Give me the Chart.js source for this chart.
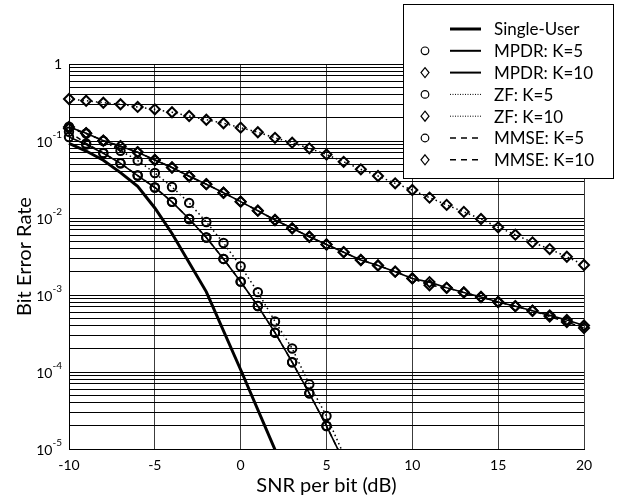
<!DOCTYPE html>
<html>
<head>
<meta charset="utf-8">
<script src="https://cdn.jsdelivr.net/npm/chart.js@4.4.0/dist/chart.umd.min.js"></script>
<style>
  html, body { margin: 0; padding: 0; background: #fff; }
</style>
</head>
<body>
<canvas id="ber" width="617" height="498"></canvas>
<script>
// SNR per bit (dB) grids
const snrSingle = [-10, -9, -8, -7, -6, -5, -4, -2, 0, 2];
const snrK5 = [-10, -9, -8, -7, -6, -5, -4, -3, -2, -1, 0, 1, 2, 3, 4, 5, 6];
const snrK10 = [-10, -9, -8, -7, -6, -5, -4, -3, -2, -1, 0, 1, 2, 3, 4, 5, 6, 7, 8, 9, 10,
                11, 12, 13, 14, 15, 16, 17, 18, 19, 20];

// bit error rates
const singleUser = [0.0933, 0.0741, 0.0562, 0.0389, 0.0257, 0.0135, 0.0063, 0.0011, 1.07e-4, 9.8e-6];
const mpdrK5 = [0.1127, 0.0901, 0.0692, 0.0513, 0.0356, 0.0249, 0.0162, 0.0097, 0.00558,
                0.00294, 0.00149, 7.19e-4, 3.24e-4, 1.34e-4, 5.28e-5, 1.99e-5, 6.98e-6];
const zfK5 = [0.153, 0.125, 0.100, 0.0748, 0.0558, 0.0384, 0.0253, 0.0157, 0.00887,
              0.00473, 0.00236, 0.00109, 4.53e-4, 2.02e-4, 6.92e-5, 2.68e-5, 8.5e-6];
const mmseK5 = [0.132, 0.093, 0.070, 0.0513, 0.0356, 0.0249, 0.0162, 0.0097, 0.00558,
                0.00294, 0.00149, 7.19e-4, 3.24e-4, 1.34e-4, 5.28e-5, 1.99e-5, 6.98e-6];
const mpdrK10 = [0.152, 0.126, 0.101, 0.0857, 0.0716, 0.0566, 0.0453, 0.0348, 0.0275, 0.0213,
                 0.0163, 0.01245, 0.00942, 0.00735, 0.00571, 0.00453, 0.00360, 0.00285, 0.00242,
                 0.00201, 0.00164, 0.00147, 0.00124, 0.00108, 9.42e-4, 8.11e-4, 7.16e-4,
                 6.25e-4, 5.44e-4, 4.73e-4, 4.02e-4];
const mmseK10 = [0.145, 0.126, 0.101, 0.0857, 0.0716, 0.0566, 0.0453, 0.0348, 0.0275, 0.0213,
                 0.0163, 0.01245, 0.00942, 0.00735, 0.00571, 0.00453, 0.00360, 0.00285, 0.00242,
                 0.00201, 0.00164, 0.00134, 0.00124, 0.00108, 9.42e-4, 8.11e-4, 7.16e-4,
                 6.25e-4, 5.26e-4, 4.46e-4, 3.73e-4];
const zfK10 = [0.351, 0.333, 0.314, 0.300, 0.277, 0.258, 0.236, 0.211, 0.189, 0.170,
               0.149, 0.130, 0.110, 0.0951, 0.0804, 0.0668, 0.0537, 0.0429, 0.0351, 0.0282,
               0.0231, 0.0184, 0.0148, 0.0120, 0.0097, 0.00757, 0.00607, 0.00483, 0.00395,
               0.00314, 0.00245];

// y axis labels (powers of ten) and the 1..9 gridlines of each decade
const yDecades = [1, 1e-1, 1e-2, 1e-3, 1e-4, 1e-5];
const yTickExps = ['', '-1', '-2', '-3', '-4', '-5'];
const yGridMultipliers = [1, 2, 3, 4, 5, 6, 7, 8, 9];

const FONT = 'Lato, "Open Sans", sans-serif';
Chart.defaults.font.family = FONT;
Chart.defaults.color = '#000';

const pts = (xs, ys) => xs.map((x, i) => ({x, y: ys[i]}));

const base = {
    borderColor: '#000',
    pointBorderColor: '#000',
    pointBackgroundColor: 'rgba(0,0,0,0)',
    tension: 0,
    fill: false,
    clip: {left: 10, right: 10, top: 10, bottom: 0}
};
const circle = {pointStyle: 'circle', pointRadius: 4.2, pointBorderWidth: 2};
const diamond = {pointStyle: 'rectRot', pointRadius: 5, pointBorderWidth: 2};
const DOT = [1.5, 3];
const DASH = [5, 4];

const datasets = [
    {...base, label: 'Single-User', data: pts(snrSingle, singleUser), borderWidth: 3, pointRadius: 0},
    {...base, ...circle, label: 'MPDR: K=5', data: pts(snrK5, mpdrK5), borderWidth: 1.6},
    {...base, ...diamond, label: 'MPDR: K=10', data: pts(snrK10, mpdrK10), borderWidth: 1.6},
    {...base, ...circle, label: 'ZF: K=5', data: pts(snrK5, zfK5), borderWidth: 1.5, borderDash: DOT},
    {...base, ...diamond, label: 'ZF: K=10', data: pts(snrK10, zfK10), borderWidth: 1.5, borderDash: DOT},
    {...base, ...circle, label: 'MMSE: K=5', data: pts(snrK5, mmseK5), borderWidth: 1.5, borderDash: DASH},
    {...base, ...diamond, label: 'MMSE: K=10', data: pts(snrK10, mmseK10), borderWidth: 1.5, borderDash: DASH}
];

// legend sample styles, same order as datasets
const legendLine = [
    {w: 3, dash: []}, {w: 2, dash: []}, {w: 2, dash: []},
    {w: 1, dash: [1, 1.5]}, {w: 1, dash: [1, 1.5]},
    {w: 1.6, dash: [6, 5]}, {w: 1.6, dash: [6, 5]}
];

const berDecorations = {
    id: 'berDecorations',
    afterDraw(chart) {
        const {ctx, scales: {y}} = chart;
        ctx.save();
        ctx.fillStyle = '#000';
        ctx.textBaseline = 'middle';
        ctx.textAlign = 'right';

        // y tick labels with superscript exponents
        const right = y.right - 7;
        yDecades.forEach((v, i) => {
            const py = y.getPixelForValue(v);
            const exp = yTickExps[i];
            if (!exp) {
                ctx.font = '14px ' + FONT;
                ctx.fillText('1', right, py);
                return;
            }
            ctx.font = '10px ' + FONT;
            const ew = ctx.measureText(exp).width;
            ctx.fillText(exp, right, py - 6);
            ctx.font = '14px ' + FONT;
            ctx.fillText('10', right - ew, py + 1);
        });

        // legend box
        const bx = 403.5, by = 4.5, bw = 210, bh = 174;
        ctx.fillStyle = '#fff';
        ctx.fillRect(bx, by, bw, bh);
        ctx.strokeStyle = '#000';
        ctx.lineWidth = 1;
        ctx.strokeRect(bx, by, bw, bh);

        ctx.textAlign = 'left';
        ctx.font = '17px ' + FONT;
        chart.data.datasets.forEach((ds, i) => {
            const cy = 29 + i * 21.8;
            ctx.fillStyle = '#000';
            ctx.strokeStyle = '#000';
            ctx.lineWidth = 1.2;
            ctx.setLineDash([]);
            if (ds.pointStyle === 'circle') {
                ctx.beginPath();
                ctx.arc(425, cy, 3.8, 0, Math.PI * 2);
                ctx.stroke();
            } else if (ds.pointStyle === 'rectRot') {
                ctx.beginPath();
                ctx.moveTo(425, cy - 5);
                ctx.lineTo(429, cy);
                ctx.lineTo(425, cy + 5);
                ctx.lineTo(421, cy);
                ctx.closePath();
                ctx.stroke();
            }
            const ls = legendLine[i];
            ctx.lineWidth = ls.w;
            ctx.setLineDash(ls.dash);
            ctx.beginPath();
            ctx.moveTo(450, cy);
            ctx.lineTo(481, cy);
            ctx.stroke();
            ctx.setLineDash([]);
            ctx.fillText(ds.label, 494, cy + 1);
        });
        ctx.restore();
    }
};

new Chart(document.getElementById('ber'), {
    type: 'line',
    data: {datasets},
    options: {
        responsive: false,
        animation: false,
        events: [],
        layout: {padding: {left: 0, right: 33, top: 64, bottom: 0}},
        plugins: {legend: {display: false}, tooltip: {enabled: false}},
        scales: {
            x: {
                type: 'linear',
                min: -10,
                max: 20,
                ticks: {stepSize: 5, padding: 8, font: {size: 14}, color: '#000'},
                grid: {color: '#3c3c3c', lineWidth: 1, drawTicks: false},
                border: {color: '#000', width: 1},
                title: {display: true, text: 'SNR per bit (dB)', font: {size: 20}, color: '#000',
                        padding: {top: 0, bottom: 0}},
                afterFit: s => { s.height = 49; }
            },
            y: {
                type: 'logarithmic',
                min: 1e-5,
                max: 1,
                ticks: {display: false},
                afterBuildTicks: s => {
                    const t = [];
                    yDecades.slice().reverse().forEach(d => {
                        yGridMultipliers.forEach(m => {
                            const v = d * m;
                            if (v <= 1) t.push({value: v});
                        });
                    });
                    s.ticks = t;
                },
                grid: {color: '#000', lineWidth: 1, drawTicks: false},
                border: {color: '#000', width: 1},
                title: {display: true, text: 'Bit Error Rate', font: {size: 20}, color: '#000',
                        padding: {top: 13, bottom: 0}},
                afterFit: s => { s.width = 69; }
            }
        }
    },
    plugins: [berDecorations]
});
</script>
</body>
</html>
